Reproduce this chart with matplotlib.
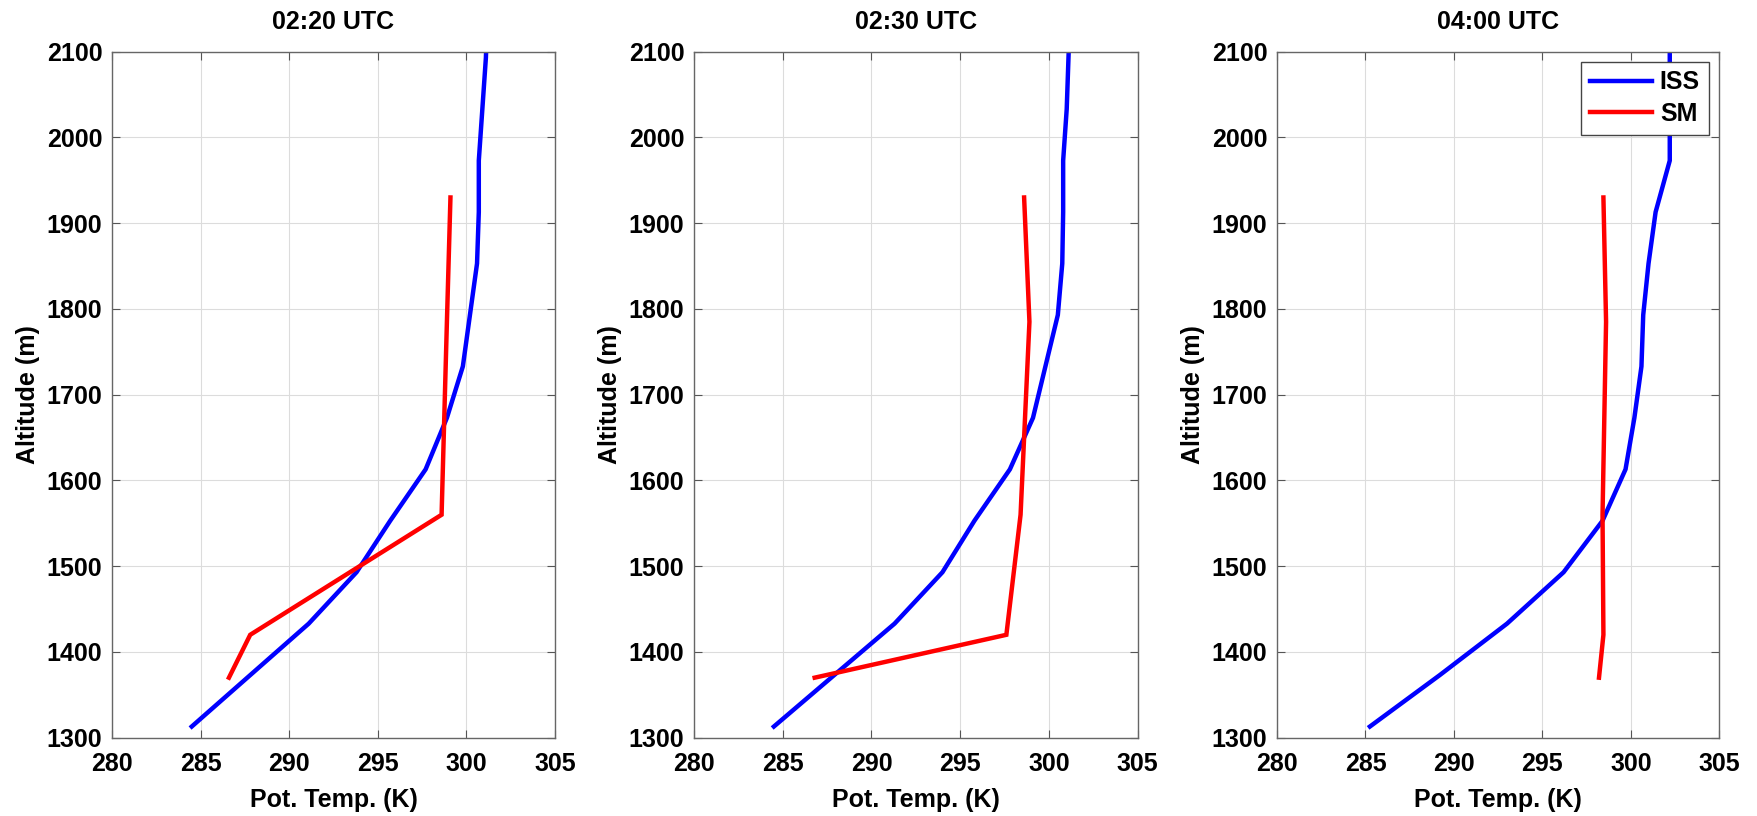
import matplotlib
matplotlib.use("Agg")
from matplotlib import pyplot as plt

plt.rcParams['font.family'] = ['Liberation Sans', 'DejaVu Sans']
plt.rcParams['font.weight'] = 'bold'
plt.rcParams['font.size'] = 18

# Altitudes (m) of the two profile sources
iss_alt = [1313, 1373, 1433, 1493, 1553, 1613, 1673, 1733, 1793, 1853, 1913, 1973, 2033, 2093, 2153]
sm_alt = [1370, 1420, 1560, 1785, 1930]

titles = ["02:20 UTC", "02:30 UTC", "04:00 UTC"]

# Potential temperature (K), one list per time
iss_0220 = [284.5, 287.8, 291.1, 293.8, 295.7, 297.7, 298.9, 299.8, 300.2, 300.6, 300.7, 300.7, 300.9, 301.1, 301.2]
iss_0230 = [284.5, 287.9, 291.3, 294.0, 295.8, 297.8, 299.1, 299.8, 300.5, 300.75, 300.8, 300.8, 301.0, 301.1, 301.2]
iss_0400 = [285.25, 289.2, 293.0, 296.2, 298.4, 299.7, 300.2, 300.6, 300.7, 301.0, 301.4, 302.2, 302.2, 302.2, 302.2]

sm_0220 = [286.6, 287.8, 298.6, 298.9, 299.1]
sm_0230 = [286.8, 297.6, 298.4, 298.9, 298.6]
sm_0400 = [298.2, 298.45, 298.4, 298.6, 298.45]

iss_all = [iss_0220, iss_0230, iss_0400]
sm_all = [sm_0220, sm_0230, sm_0400]

W, H = 1758, 816
fig = plt.figure(figsize=(W / 100, H / 100), dpi=100)

# axes boxes in pixels: left, top, right, bottom
boxes = [(112, 51.7, 555, 737.7), (694, 51.7, 1137.7, 737.7), (1277, 51.7, 1719.3, 737.7)]

for i, (l, t, r, b) in enumerate(boxes):
    ax = fig.add_axes([l / W, 1 - b / H, (r - l) / W, (b - t) / H])
    ax.plot(iss_all[i], iss_alt, color='#0000ff', lw=3.2, label='ISS', solid_joinstyle='miter')
    ax.plot(sm_all[i], sm_alt, color='#ff0000', lw=3.2, label='SM', solid_joinstyle='miter')
    ax.set_xlim(280, 305)
    ax.set_ylim(1300, 2100)
    ax.set_xticks(range(280, 306, 5))
    ax.set_yticks(range(1300, 2101, 100))
    ax.grid(True, color='#dcdcdc', lw=0.8)
    ax.set_axisbelow(True)
    ax.tick_params(direction='in', length=5.5, width=0.8, color='#555555',
                   top=True, right=True, labelsize=18, pad=7)
    ax.tick_params(axis='x', pad=10)
    for s in ax.spines.values():
        s.set_color('#666666')
        s.set_linewidth(1.0)
    ax.set_title(titles[i], fontsize=18, fontweight='bold', pad=16)
    ax.set_xlabel("Pot. Temp. (K)", fontsize=18, fontweight='bold', labelpad=9)
    ax.set_ylabel("Altitude (m)", fontsize=18, fontweight='bold', labelpad=5)
    if i == 2:
        leg = ax.legend(loc='upper right', bbox_to_anchor=(1708.7 / W, 1 - 61.7 / H),
                        bbox_transform=fig.transFigure, borderaxespad=0,
                        fancybox=False, framealpha=1, edgecolor='#444444',
                        handlelength=2.5, labelspacing=0.3, borderpad=0.35,
                        handletextpad=0.3, prop={'weight': 'bold', 'size': 18})
        leg.get_frame().set_linewidth(1.0)

fig.savefig("out.png", dpi=100)
